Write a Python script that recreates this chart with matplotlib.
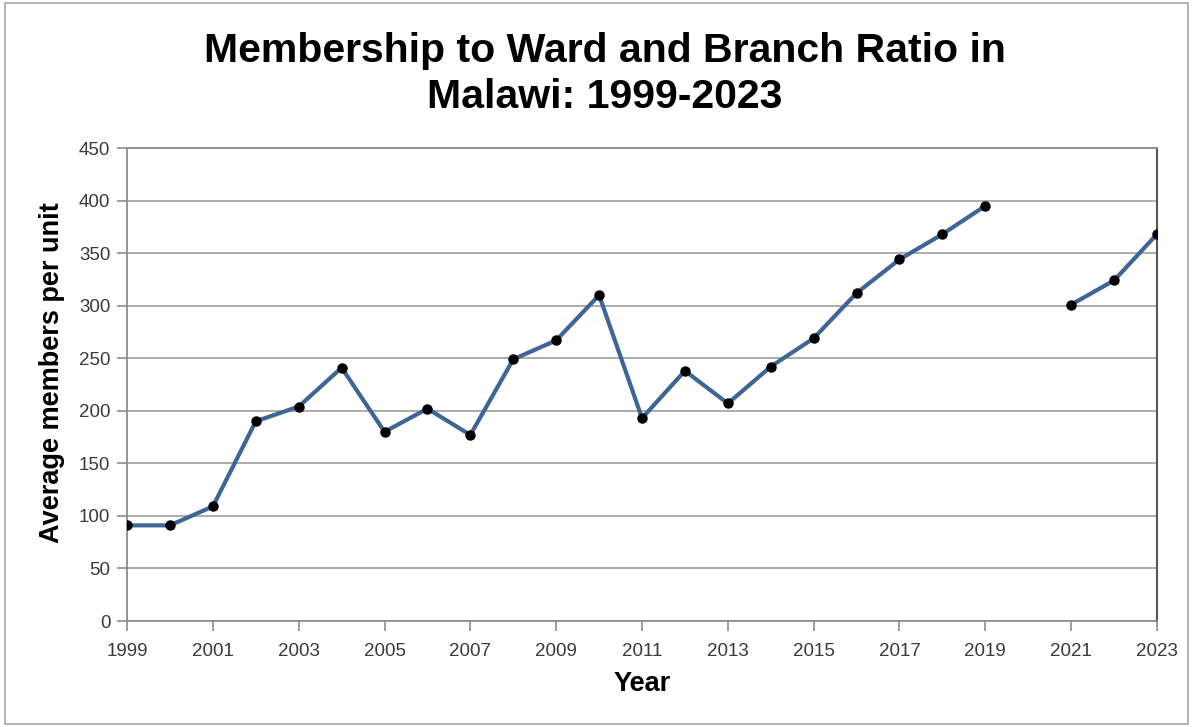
import numpy as np
import matplotlib
matplotlib.use("Agg")
import matplotlib.pyplot as plt
from matplotlib.patches import Rectangle

# Members per unit, by year (2020 missing)
years = list(range(1999, 2024))
members = [91, 91, 109, 190, 204, 241, 180, 202, 177, 249, 267, 310,
           193, 238, 207, 242, 269, 312, 344, 368, 395, np.nan, 301, 324, 368]
xticks = list(range(1999, 2024, 2))
yticks = list(range(0, 451, 50))

plt.rcParams['font.family'] = ['Liberation Sans', 'DejaVu Sans']

fig = plt.figure(figsize=(11.93, 7.27), dpi=100)
# light frame round the chart
fig.patches.append(Rectangle((0.004, 0.004), 0.992, 0.992, transform=fig.transFigure,
                             fill=False, edgecolor='#a6a6a6', linewidth=1.2))

ax = fig.add_axes([0.1065, 0.1458, 0.8633, 0.6506])
ax.plot(years, members, color='#3f6596', linewidth=3, marker='o',
        markersize=6.5, markerfacecolor='black', markeredgecolor='black', zorder=3)

ax.set_xlim(1999, 2023)
ax.set_ylim(0, 450)
ax.set_xticks(xticks)
ax.set_yticks(yticks)
ax.yaxis.grid(True, color='#a6a6a6', linewidth=1.3)
ax.set_axisbelow(True)

for side in ['left', 'bottom', 'top']:
    ax.spines[side].set_color('#8c8c8c')
    ax.spines[side].set_linewidth(1.3)
ax.spines['right'].set_color('#555555')
ax.spines['right'].set_linewidth(1.5)

ax.tick_params(axis='both', direction='out', length=7, width=1.2, color='#8c8c8c',
               labelsize=13.5, labelcolor='#3a3a3a', pad=5)
ax.tick_params(axis='x', pad=9)

ax.set_xlabel('Year', fontsize=19.5, fontweight='bold', labelpad=8)
ax.set_ylabel('Average members per unit', fontsize=19.5, fontweight='bold', labelpad=10)
ax.yaxis.label.set_y(0.526)  # sits a little above centre in the original

fig.text(0.507, 0.898, 'Membership to Ward and Branch Ratio in\nMalawi: 1999-2023',
         ha='center', va='center', fontsize=29.5, fontweight='bold', linespacing=1.28)

fig.savefig('out.png', dpi=100)
